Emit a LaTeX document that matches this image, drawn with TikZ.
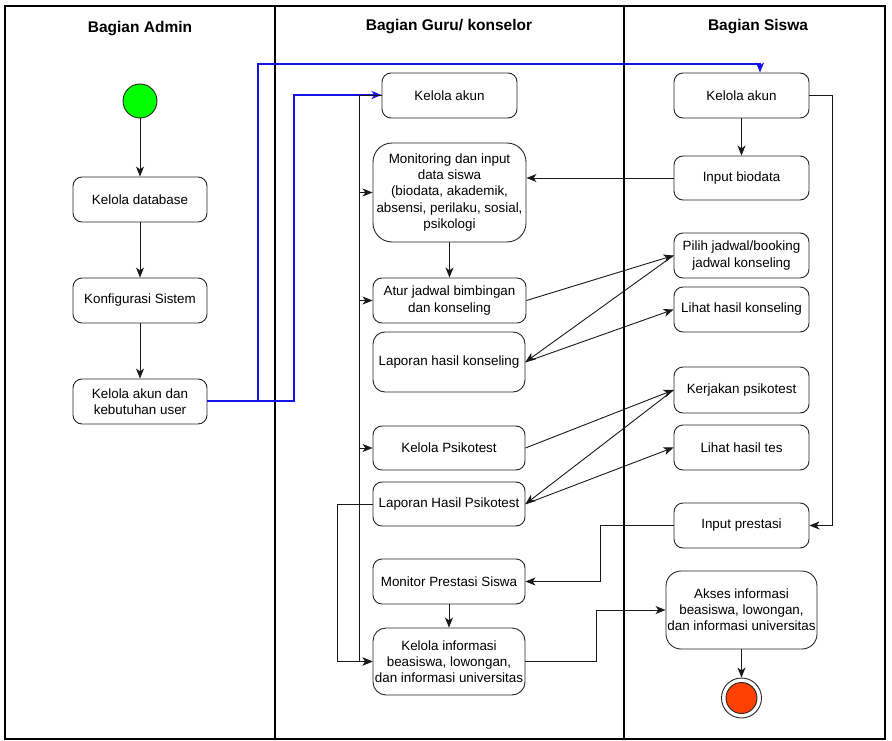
\documentclass[tikz,border=0pt]{standalone}
\usepackage{fontspec}
\setmainfont{Liberation Sans}
\usetikzlibrary{arrows.meta}
\definecolor{flowblue}{RGB}{20,20,230}
\definecolor{startgreen}{RGB}{0,255,0}
\definecolor{endred}{RGB}{255,64,0}
\begin{document}
\begin{tikzpicture}[x=1pt,y=-1pt,
  box/.style={draw=black!85, line width=0.9pt, align=center, inner sep=0pt,
    font=\fontsize{13.4}{16.2}\selectfont},
  arr/.style={draw=black!90, line width=0.9pt, -{Stealth[length=10pt,width=8pt,inset=2.8pt]}},
  barr/.style={draw=flowblue, line width=2pt, -{Stealth[length=10pt,width=8pt,inset=2.8pt]}},
  lane/.style={draw=black, line width=1.1pt},
  head/.style={font=\fontsize{15.5}{18}\selectfont\bfseries}]
\useasboundingbox (0,0) rectangle (892,741);
% lanes
\draw[lane] (5,6) rectangle (885,739);
\draw[lane] (275,6) -- (275,739);
\draw[lane] (624,6) -- (624,739);
\node[head] (h1) at (140,29) {Bagian Admin};
\node[head] (h2) at (449,27) {Bagian Guru/ konselor};
\node[head] (h3) at (758,27) {Bagian Siswa};
% admin
\node[circle, draw=black!85, line width=0.9pt, fill=startgreen, minimum size=34pt, inner sep=0pt] (start) at (140,101) {};
\node[box, rounded corners=9pt, minimum width=134pt, minimum height=45pt] (db) at (140,199.5) {Kelola database};
\node[box, rounded corners=9pt, minimum width=134pt, minimum height=45pt] (konf) at (140,300.5) {Konfigurasi Sistem};
\node[box, rounded corners=9pt, minimum width=134pt, minimum height=45pt] (akunadm) at (140,401.5) {Kelola akun dan\\kebutuhan user};
% guru
\node[box, rounded corners=9pt, minimum width=135pt, minimum height=45pt] (gakun) at (449.5,95.5) {Kelola akun};
\node[box, rounded corners=19pt, minimum width=153pt, minimum height=99pt] (mon) at (449.5,192.5) {Monitoring dan input\\data siswa\\(biodata, akademik,\\absensi, perilaku, sosial,\\psikologi};
\node[box, rounded corners=9pt, minimum width=153pt, minimum height=45pt] (atur) at (449.5,300.5) {Atur jadwal bimbingan\\dan konseling};
\node[box, rounded corners=12pt, minimum width=152pt, minimum height=60pt] (lapk) at (449,362) {Laporan hasil konseling};
\node[box, rounded corners=9pt, minimum width=152pt, minimum height=44pt] (kpsi) at (449,448) {Kelola Psikotest};
\node[box, rounded corners=9pt, minimum width=152pt, minimum height=44pt] (lapp) at (449,504) {Laporan Hasil Psikotest};
\node[box, rounded corners=9pt, minimum width=152pt, minimum height=45pt] (monp) at (449,581.5) {Monitor Prestasi Siswa};
\node[box, rounded corners=13pt, minimum width=152pt, minimum height=67pt] (kinf) at (449,661.5) {Kelola informasi\\beasiswa, lowongan,\\dan informasi universitas};
% siswa
\node[box, rounded corners=9pt, minimum width=135pt, minimum height=45pt] (sakun) at (741.5,95.5) {Kelola akun};
\node[box, rounded corners=9pt, minimum width=135pt, minimum height=44pt] (bio) at (741.5,178) {Input biodata};
\node[box, rounded corners=9pt, minimum width=135pt, minimum height=45pt] (pilih) at (741.5,255.5) {Pilih jadwal/booking\\jadwal konseling};
\node[box, rounded corners=9pt, minimum width=135pt, minimum height=45pt] (lihk) at (741.5,309.5) {Lihat hasil konseling};
\node[box, rounded corners=9pt, minimum width=135pt, minimum height=46pt] (kerj) at (741.5,390) {Kerjakan psikotest};
\node[box, rounded corners=9pt, minimum width=135pt, minimum height=45pt] (liht) at (741.5,447.5) {Lihat hasil tes};
\node[box, rounded corners=9pt, minimum width=135pt, minimum height=45pt] (inpp) at (741.5,525.5) {Input prestasi};
\node[box, rounded corners=15pt, minimum width=151pt, minimum height=78pt] (akses) at (741.5,610) {Akses informasi\\beasiswa, lowongan,\\dan informasi universitas};
\node[circle, draw=black!85, line width=0.9pt, fill=white, minimum size=40pt, inner sep=0pt] (end) at (741.5,698) {};
\node[circle, draw=black!85, line width=0.9pt, fill=endred, minimum size=31pt, inner sep=0pt] (endin) at (741.5,698) {};
% admin flow
\draw[arr] (start) -- (db);
\draw[arr] (db) -- (konf);
\draw[arr] (konf) -- (akunadm);
% blue connectors
\draw[barr] ([yshift=0.5pt]akunadm.east) -| (258,64) -| ([xshift=18.5pt]sakun.north);
\draw[barr] ([yshift=0.5pt]akunadm.east) -| (294,95) -- ([yshift=0.5pt]gakun.west);
% guru trunk
\draw[arr] (gakun.west) -- (359,95.5) |- (mon.west);
\draw[arr] (gakun.west) -- (359,95.5) |- (atur.west);
\draw[arr] (gakun.west) -- (359,95.5) |- (kpsi.west);
\draw[arr] (gakun.west) -- (359,95.5) |- (kinf.west);
\draw[arr] (lapp.west) -- (337,504) |- (kinf.west);
\draw[arr] (mon) -- (atur);
\draw[arr] (monp) -- (kinf);
% siswa
\draw[arr] (sakun) -- (bio);
\draw[arr] (bio.west) -- (bio.west -| mon.east);
\draw[arr] (sakun.east) -- (832,95.5) |- (inpp.east);
\draw[arr] (inpp.west) -- (600,525.5) |- (monp.east);
\draw[arr] (kinf.east) -- (596,661.5) |- (akses.west);
\draw[arr] (akses) -- (end);
% diagonals
\draw[arr] (atur.east) -- (pilih.west);
\draw[arr] (pilih.west) -- (lapk.east);
\draw[arr] (lapk.east) -- (lihk.west);
\draw[arr] (kpsi.east) -- (kerj.west);
\draw[arr] (kerj.west) -- (lapp.east);
\draw[arr] (lapp.east) -- (liht.west);
\end{tikzpicture}
\end{document}
